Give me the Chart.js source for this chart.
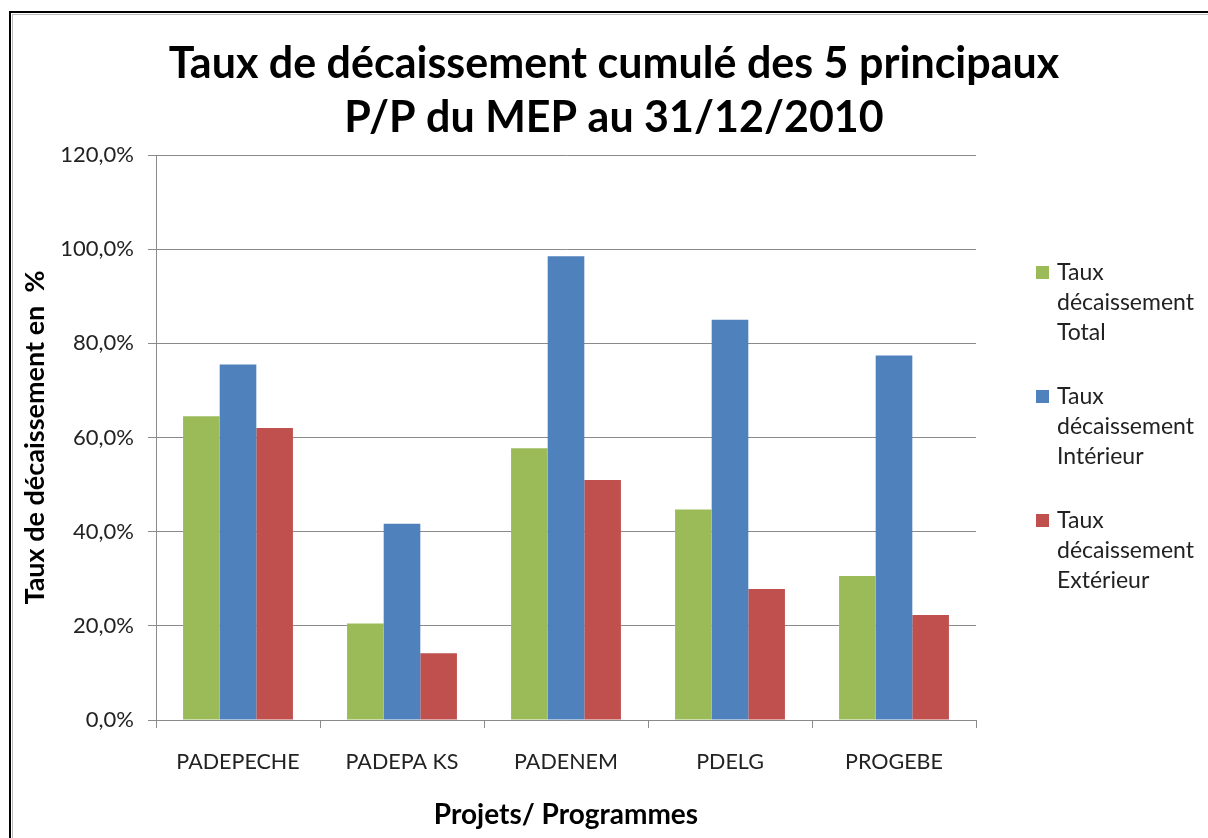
<!DOCTYPE html>
<html>
<head>
<meta charset="utf-8">
<script src="https://cdn.jsdelivr.net/npm/chart.js@4.4.1/dist/chart.umd.min.js"></script>
<style>
  body { margin: 0; background: #fff; }
  canvas { display: block; }
</style>
</head>
<body>
<canvas id="tauxChart" width="1208" height="838"></canvas>
<script>
// données
const projets = ["PADEPECHE", "PADEPA KS", "PADENEM", "PDELG", "PROGEBE"];
const tauxTotal = [64.5, 20.5, 57.7, 44.7, 30.6];
const tauxInterieur = [75.5, 41.7, 98.5, 85.0, 77.4];
const tauxExterieur = [62.0, 14.2, 51.0, 27.8, 22.3];
const yTicks = [0, 20, 40, 60, 80, 100, 120];

const titreLignes = [
  "Taux de décaissement cumulé des 5 principaux",
  "P/P du MEP au 31/12/2010"
];
const legendeLignes = [
  ["Taux", "décaissement", "Total"],
  ["Taux", "décaissement", "Intérieur"],
  ["Taux", "décaissement", "Extérieur"]
];

const FONT = "Lato, 'Open Sans', sans-serif";
const gridColor = "#8a8a8a";

// titre, cadre et légende dessinés à la main
const decorPlugin = {
  id: "decor",
  beforeDraw(chart) {
    const c = chart.ctx;
    c.save();
    c.fillStyle = "#fff";
    c.fillRect(0, 0, chart.width, chart.height);
    c.strokeStyle = "#000";
    c.lineWidth = 2;
    c.strokeRect(10, 12, 1240, 860);
    c.strokeStyle = "#bbb";
    c.lineWidth = 1;
    c.strokeRect(12.5, 14.5, 1240, 860);
    c.restore();
  },
  afterDraw(chart) {
    const c = chart.ctx;
    c.save();
    // titre
    c.fillStyle = "#000";
    c.font = "bold 43px " + FONT;
    c.textAlign = "center";
    c.textBaseline = "middle";
    c.fillText(titreLignes[0], 614, 64);
    c.fillText(titreLignes[1], 614, 118);

    // légende
    c.font = "23px " + FONT;
    c.textAlign = "left";
    chart.data.datasets.forEach((ds, i) => {
      const y0 = 273 + i * 124;
      c.fillStyle = ds.backgroundColor;
      c.fillRect(1036, y0 - 7, 13, 13);
      c.fillStyle = "#222";
      legendeLignes[i].forEach((t, j) => {
        c.fillText(t, 1057, y0 + j * 30);
      });
    });
    c.restore();
  }
};

const ctx = document.getElementById("tauxChart").getContext("2d");

const chart = new Chart(ctx, {
  type: "bar",
  data: {
    labels: projets,
    datasets: [
      {
        label: "Taux décaissement Total",
        data: tauxTotal,
        backgroundColor: "#9BBB59",
        borderWidth: 0
      },
      {
        label: "Taux décaissement Intérieur",
        data: tauxInterieur,
        backgroundColor: "#4F81BD",
        borderWidth: 0
      },
      {
        label: "Taux décaissement Extérieur",
        data: tauxExterieur,
        backgroundColor: "#C0504D",
        borderWidth: 0
      }
    ]
  },
  options: {
    responsive: false,
    devicePixelRatio: 1,
    animation: false,
    categoryPercentage: 0.67,
    barPercentage: 1.0,
    layout: {
      padding: { left: 12, top: 155, right: 232, bottom: 0 }
    },
    plugins: {
      legend: { display: false },
      title: { display: false },
      tooltip: { enabled: false }
    },
    scales: {
      x: {
        grid: {
          drawOnChartArea: false,
          drawTicks: true,
          tickLength: 8,
          color: gridColor
        },
        border: { color: gridColor, width: 1 },
        ticks: {
          color: "#222",
          font: { family: FONT, size: 21.5 },
          padding: 21
        },
        title: {
          display: true,
          text: "Projets/ Programmes",
          color: "#000",
          font: { family: FONT, size: 28, weight: "bold" },
          padding: { top: 4, bottom: 6 }
        },
        afterFit(scale) {
          scale.height = 118;
        }
      },
      y: {
        min: 0,
        max: 120,
        afterBuildTicks(scale) {
          scale.ticks = yTicks.map(v => ({ value: v }));
        },
        grid: {
          color: gridColor,
          tickLength: 8
        },
        border: { color: gridColor, width: 1 },
        ticks: {
          color: "#222",
          font: { family: FONT, size: 22 },
          padding: 14,
          callback: v => v.toFixed(1).replace(".", ",") + "%"
        },
        title: {
          display: true,
          text: "Taux de décaissement en  %",
          color: "#000",
          font: { family: FONT, size: 27, weight: "bold" },
          padding: { top: 7, bottom: 4 }
        },
        afterFit(scale) {
          scale.width = 144;
        }
      }
    }
  },
  plugins: [decorPlugin]
});
</script>
</body>
</html>
